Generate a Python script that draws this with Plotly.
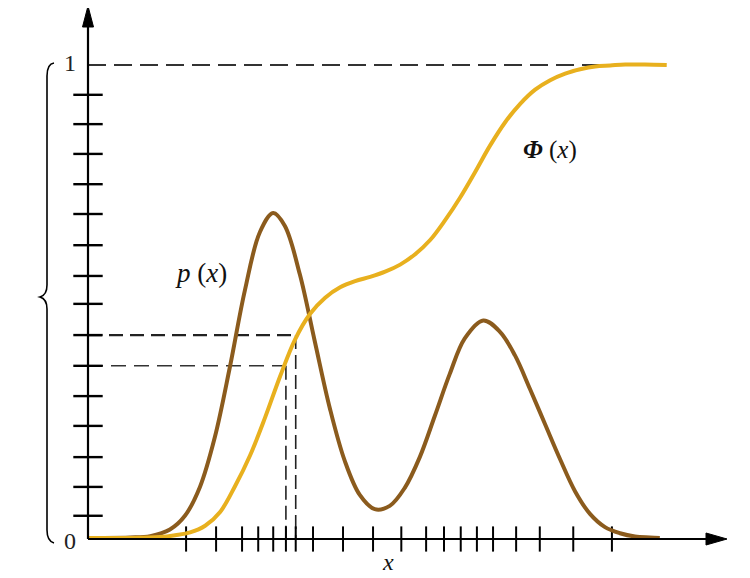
import plotly.graph_objects as go

# ---------------- data ----------------
p_x = [0, 0.21, 0.73, 1.08, 1.42, 1.68, 1.94, 2.20, 2.46, 2.72, 2.98, 3.21, 3.41, 3.67,
       3.93, 4.19, 4.45, 4.71, 4.97, 5.23, 5.49, 5.75, 6.01, 6.27, 6.53, 6.85, 7.14,
       7.40, 7.66, 7.92, 8.18, 8.44, 8.70, 8.96, 9.22, 9.48, 9.74, 9.91]
p_y = [0, 0, 0.001, 0.004, 0.018, 0.047, 0.108, 0.214, 0.362, 0.524, 0.647, 0.687,
       0.660, 0.558, 0.416, 0.275, 0.163, 0.091, 0.061, 0.068, 0.106, 0.171, 0.258,
       0.347, 0.422, 0.460, 0.436, 0.386, 0.315, 0.241, 0.167, 0.099, 0.051, 0.023,
       0.010, 0.003, 0.001, 0]

phi_x = [0, 0.73, 1.25, 1.51, 1.77, 2.03, 2.29, 2.55, 2.81, 3.07, 3.33, 3.59, 3.85,
         4.11, 4.37, 4.63, 4.89, 5.15, 5.41, 5.67, 5.93, 6.19, 6.45, 6.71, 6.97, 7.23,
         7.49, 7.75, 8.01, 8.27, 8.53, 8.79, 9.05, 9.31, 9.65, 10.03]
phi_y = [0, 0, 0.002, 0.006, 0.012, 0.026, 0.055, 0.110, 0.175, 0.255, 0.342, 0.420,
         0.474, 0.508, 0.530, 0.543, 0.552, 0.563, 0.578, 0.600, 0.630, 0.672, 0.720,
         0.774, 0.830, 0.879, 0.918, 0.948, 0.968, 0.982, 0.991, 0.997, 0.999, 1.001,
         1.001, 1.0]

x_ticks = [1.70, 2.22, 2.67, 2.95, 3.21, 3.43, 3.60, 3.90, 4.42, 4.94, 5.43, 5.86,
           6.17, 6.46, 6.74, 7.02, 7.42, 7.83, 8.41, 9.08]
y_ticks = [0.937, 0.875, 0.812, 0.748, 0.685, 0.619, 0.554, 0.495, 0.429, 0.364,
           0.300, 0.237, 0.171, 0.108, 0.047]
y_tick_labels = ["0", "1"]
y_tick_values = [0.0, 1.0]

# two read-off points on Φ (x1 < x2)
guide_x = [3.43, 3.60]
guide_y = [0.364, 0.429]
x_end = 10.0

# ---------------- geometry helpers (page pixel -> data) ----------------
X0, SX = 88.0, 57.7     # page pixel of x=0, pixels per x-unit
Y0, SY = 538.0, 473.0   # page pixel of y=0, pixels per y-unit
PAGE_W, PAGE_H = 750, 578
OFF = 8                 # default body margin of the html page
W, H = PAGE_W - OFF, PAGE_H - OFF


def px(v):
    return (v - X0) / SX


def py(v):
    return (Y0 - v) / SY


BROWN = "#8b5b1d"
GOLD = "#e8b01e"
SERIF = "Liberation Serif, Times New Roman, serif"

fig = go.Figure()

shapes = []
# guide dashed lines
shapes.append(dict(type="line", x0=0, x1=x_end, y0=1, y1=1, layer="below",
                   line=dict(color="#333", width=2, dash="18px,8px")))
shapes.append(dict(type="line", x0=0, x1=guide_x[1], y0=guide_y[1], y1=guide_y[1], layer="below",
                   line=dict(color="#222", width=2.4, dash="14px,7px")))
shapes.append(dict(type="line", x0=0, x1=guide_x[0], y0=guide_y[0], y1=guide_y[0], layer="below",
                   line=dict(color="#333", width=1.5, dash="15px,8px")))
shapes.append(dict(type="line", x0=guide_x[1], x1=guide_x[1], y0=guide_y[1], y1=0, layer="below",
                   line=dict(color="#222", width=1.6, dash="14px,6px")))
shapes.append(dict(type="line", x0=guide_x[0], x1=guide_x[0], y0=guide_y[0], y1=0, layer="below",
                   line=dict(color="#222", width=1.6, dash="14px,6px")))

# axes lines
shapes.append(dict(type="line", x0=0, x1=px(712), y0=py(539), y1=py(539),
                   line=dict(color="black", width=2)))
shapes.append(dict(type="line", x0=0, x1=0, y0=py(539), y1=py(24),
                   line=dict(color="black", width=2.2)))
# arrow heads
shapes.append(dict(type="path",
                   path=f"M {px(727)} {py(539)} L {px(706)} {py(533)} L {px(706)} {py(545)} Z",
                   fillcolor="black", line=dict(color="black", width=1)))
shapes.append(dict(type="path",
                   path=f"M {px(88)} {py(6)} L {px(82.5)} {py(27)} L {px(93.5)} {py(27)} Z",
                   fillcolor="black", line=dict(color="black", width=1)))
# curly brace on the left
bx, tip = 47, 40
brace = (f"M {px(54)} {py(63)} Q {px(bx)} {py(64)} {px(bx)} {py(76)} "
         f"L {px(bx)} {py(285)} Q {px(bx)} {py(295)} {px(tip)} {py(297)} "
         f"Q {px(bx)} {py(299)} {px(bx)} {py(309)} "
         f"L {px(bx)} {py(530)} Q {px(bx)} {py(541)} {px(54)} {py(543)}")
shapes.append(dict(type="path", path=brace, line=dict(color="black", width=1.6)))

# ticks
fig.add_trace(go.Scatter(x=x_ticks, y=[py(539)] * len(x_ticks), mode="markers",
                         marker=dict(symbol="line-ns", size=18,
                                     line=dict(color="black", width=2)),
                         hoverinfo="skip", showlegend=False))
fig.add_trace(go.Scatter(x=[0] * len(y_ticks), y=y_ticks, mode="markers",
                         marker=dict(symbol="line-ew", size=21,
                                     line=dict(color="black", width=2.4)),
                         hoverinfo="skip", showlegend=False))

# curves
fig.add_trace(go.Scatter(x=p_x, y=p_y, mode="lines", name="p(x)",
                         line=dict(color=BROWN, width=4, shape="spline", smoothing=1.0),
                         showlegend=False))
fig.add_trace(go.Scatter(x=phi_x, y=phi_y, mode="lines", name="Φ(x)",
                         line=dict(color=GOLD, width=4, shape="spline", smoothing=1.0),
                         showlegend=False))

annotations = []
for lab, val in zip(y_tick_labels, y_tick_values):
    dy = py(541) if val == 0 else (py(63) - 1)
    annotations.append(dict(x=px(70), y=val + dy, text=lab, showarrow=False,
                            font=dict(family=SERIF, size=24, color="#222")))
annotations.append(dict(x=px(201), y=py(273), text="<i>p</i> (<i>x</i>)", showarrow=False,
                        font=dict(family=SERIF, size=27, color="#111")))
annotations.append(dict(x=px(550), y=py(150), text="<b><i>Φ</i></b> (<i>x</i>)", showarrow=False,
                        font=dict(family=SERIF, size=25, color="#111")))
annotations.append(dict(x=px(388), y=py(562), text="<i>x</i>", showarrow=False,
                        font=dict(family=SERIF, size=24, color="#111")))

fig.update_layout(
    width=W, height=H, margin=dict(l=0, r=0, t=0, b=0),
    paper_bgcolor="white", plot_bgcolor="white",
    xaxis=dict(range=[px(OFF), px(PAGE_W)], visible=False, fixedrange=True),
    yaxis=dict(range=[py(PAGE_H), py(OFF)], visible=False, fixedrange=True),
    shapes=shapes, annotations=annotations,
)

fig.write_html("out.html")
